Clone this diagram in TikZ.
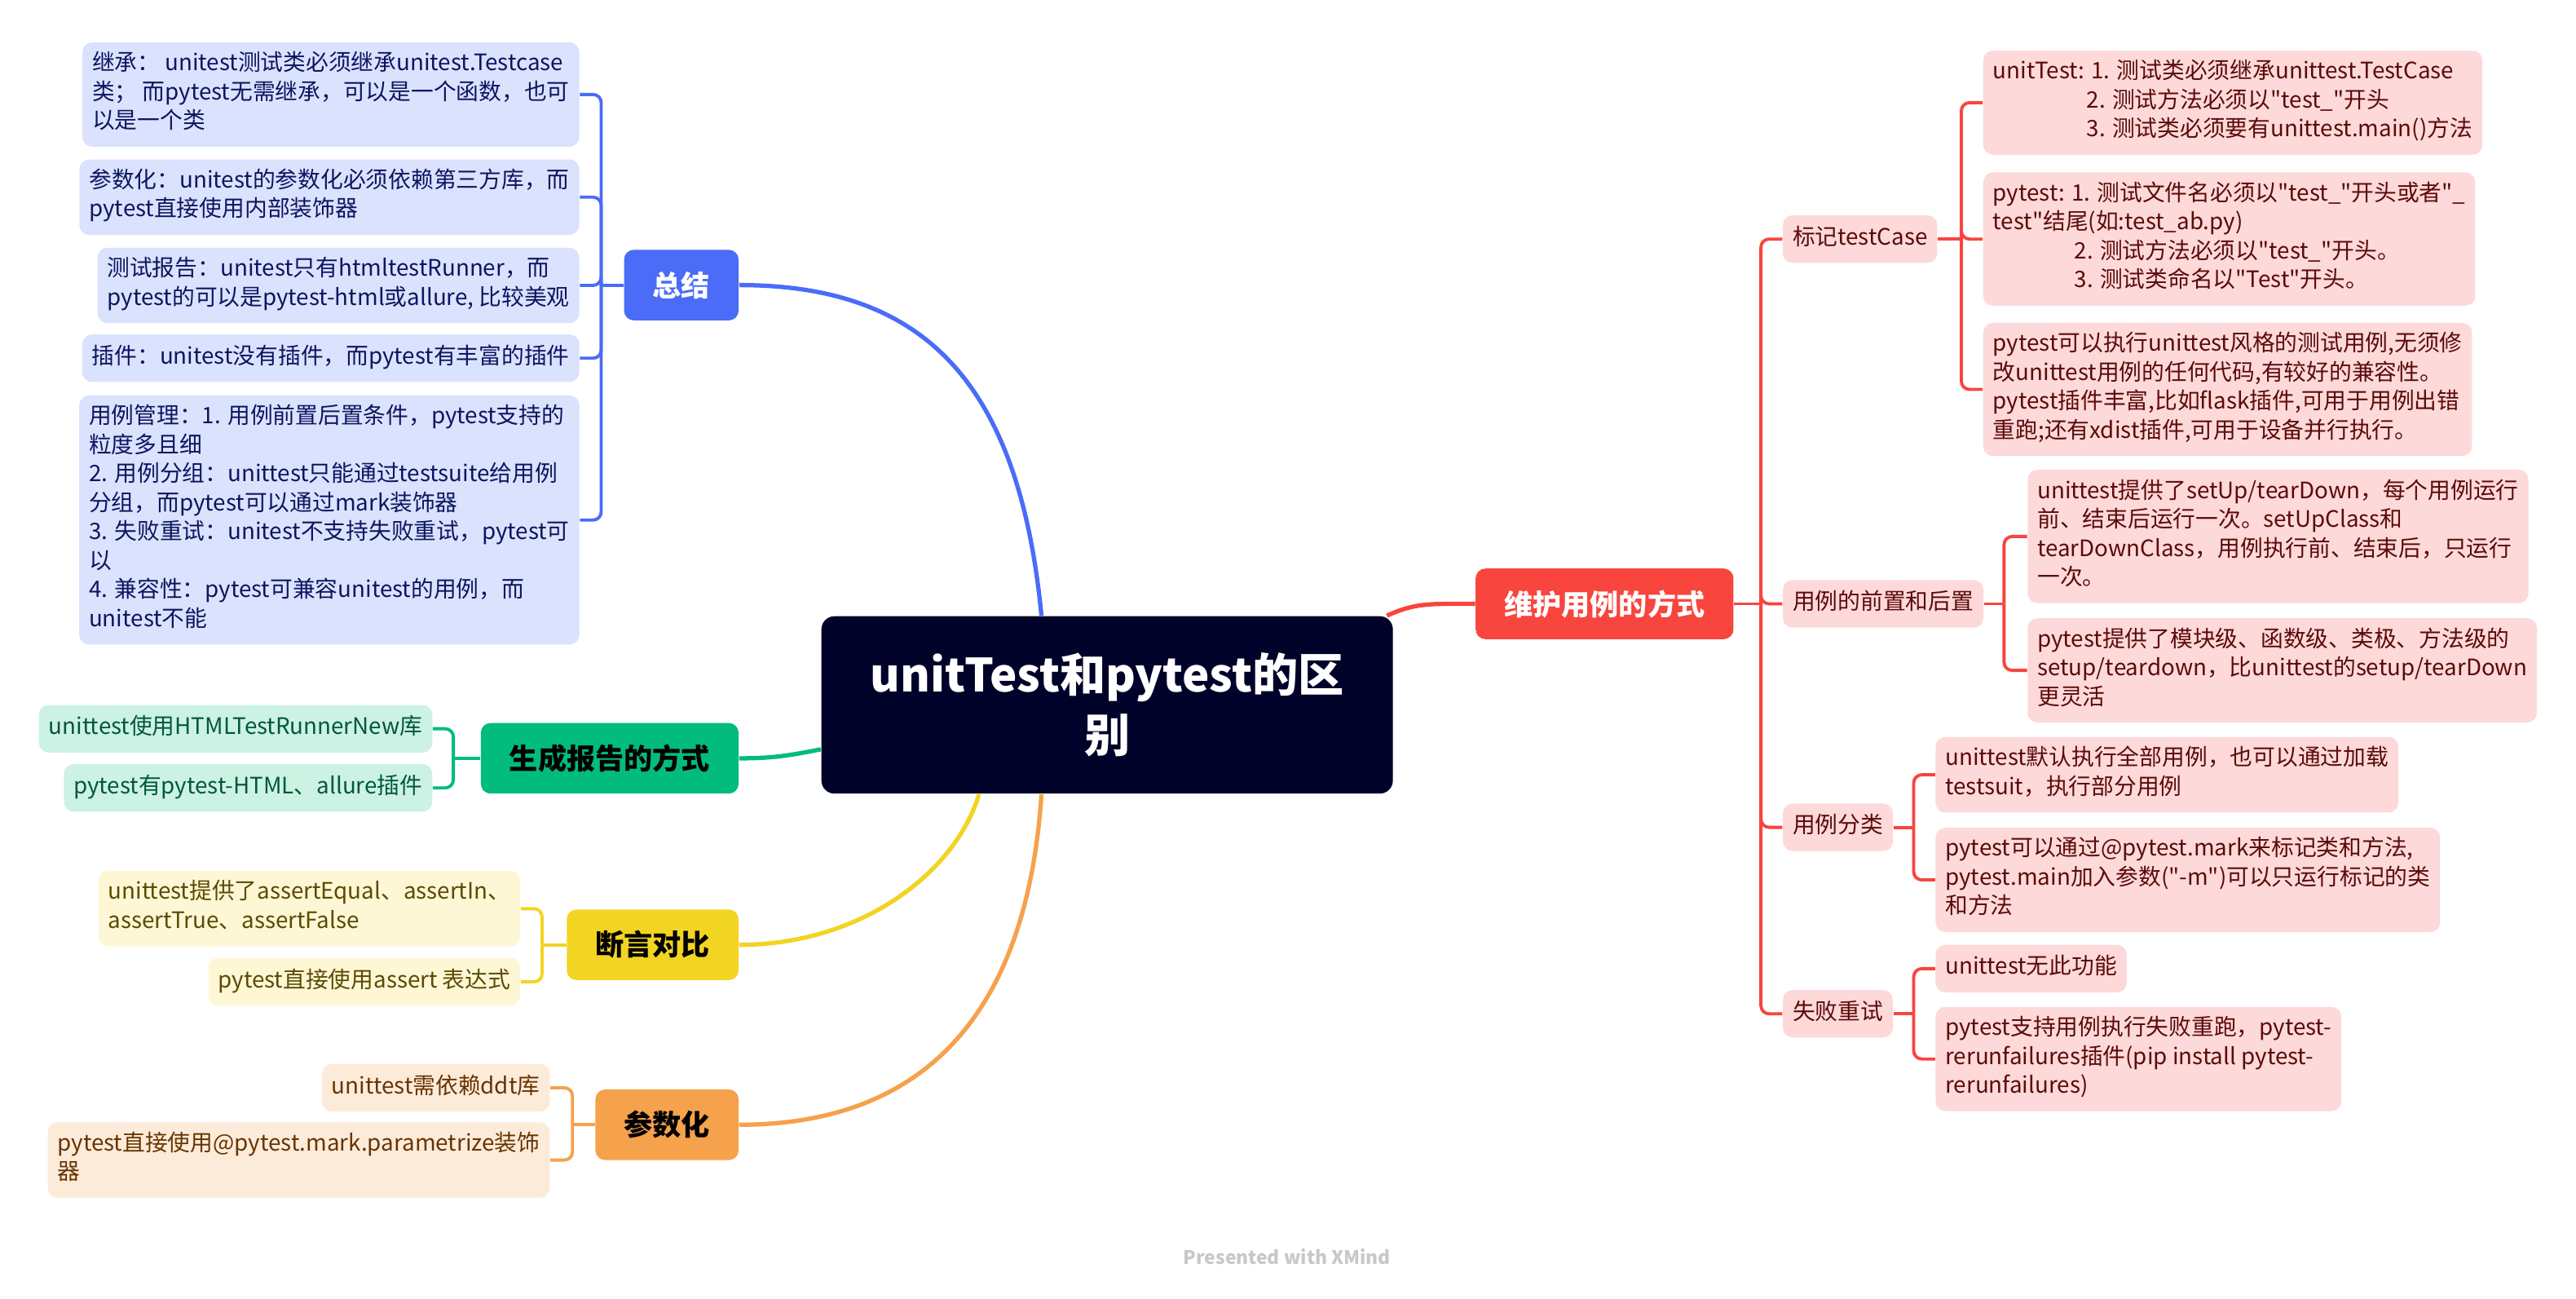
\documentclass[tikz,border=0pt]{standalone}
\usepackage{fontspec}
\setmainfont{Noto Sans CJK SC}[Ligatures=TeXOff]
\usepackage{tikz}
\usetikzlibrary{calc}
\definecolor{root_navy}{RGB}{0, 2, 41}
\definecolor{sum_blue}{RGB}{74, 108, 247}
\definecolor{sum_light}{RGB}{219, 226, 253}
\definecolor{sum_text}{RGB}{12, 22, 96}
\definecolor{keep_red}{RGB}{248, 69, 62}
\definecolor{keep_light}{RGB}{253, 217, 217}
\definecolor{keep_text}{RGB}{92, 10, 10}
\definecolor{rep_green}{RGB}{2, 188, 125}
\definecolor{rep_light}{RGB}{204, 242, 228}
\definecolor{rep_text}{RGB}{0, 88, 58}
\definecolor{ast_yellow}{RGB}{242, 212, 34}
\definecolor{ast_light}{RGB}{253, 247, 213}
\definecolor{ast_text}{RGB}{92, 74, 0}
\definecolor{par_orange}{RGB}{246, 161, 75}
\definecolor{par_light}{RGB}{253, 235, 218}
\definecolor{par_text}{RGB}{104, 52, 0}
\definecolor{mark_gray}{RGB}{200, 200, 200}
\tikzstyle{topic}=[rectangle,rounded corners=0.16cm,fill=root_navy,text=white,
  minimum width=7.012cm,minimum height=2.176cm,align=center,
  font=\fontsize{16pt}{21pt}\selectfont\bfseries]
\tikzstyle{br}=[rectangle,rounded corners=0.12cm,minimum height=0.866cm,
  inner xsep=10pt,font=\fontsize{10pt}{12pt}\selectfont\bfseries]
\tikzstyle{lf}=[rectangle,rounded corners=0.12cm,inner xsep=3.4pt,inner ysep=3.25pt,
  align=left,font=\fontsize{7.9pt}{10.1pt}\selectfont,
  execute at begin node=\strut,execute at end node=\strut]
\tikzstyle{sumleaf}=[style=lf,fill=sum_light,text=sum_text]
\tikzstyle{keepleaf}=[style=lf,fill=keep_light,text=keep_text]
\tikzstyle{repleaf}=[style=lf,fill=rep_light,text=rep_text]
\tikzstyle{astleaf}=[style=lf,fill=ast_light,text=ast_text]
\tikzstyle{parleaf}=[style=lf,fill=par_light,text=par_text]
\tikzstyle{sumline}=[draw=sum_blue,line width=1.1pt,rounded corners=0.1cm]
\tikzstyle{keepline}=[draw=keep_red,line width=1.1pt,rounded corners=0.1cm]
\tikzstyle{repline}=[draw=rep_green,line width=1.1pt,rounded corners=0.1cm]
\tikzstyle{astline}=[draw=ast_yellow,line width=1.1pt,rounded corners=0.1cm]
\tikzstyle{parline}=[draw=par_orange,line width=1.1pt,rounded corners=0.1cm]
\tikzstyle{wmark}=[text=mark_gray,font=\fontsize{6.5pt}{8pt}\selectfont\bfseries]

\begin{document}
\begin{tikzpicture}[x=0.02015cm,y=-0.02015cm]
        \path [use as bounding box,fill=white] (0,0) rectangle (1568.2,790.1);
        \node [style=topic] (root) at (674,429) {unitTest和pytest的区\\别};
        % main branches
        \node [style=br,fill=keep_red,text=white,anchor=west] (wh) at (898,367.5) {维护用例的方式};
        \node [style=br,fill=sum_blue,text=white,anchor=east] (zj) at (450,173.5) {总结};
        \node [style=br,fill=rep_green,anchor=east] (sc) at (450,461.5) {生成报告的方式};
        \node [style=br,fill=ast_yellow,anchor=east] (dy) at (450,575) {断言对比};
        \node [style=br,fill=par_orange,anchor=east] (cs) at (450,684.5) {参数化};
        \draw [draw=sum_blue,line width=1.5pt] ([shift={(-40,0)}]root.north) .. controls +(-14,-145) and +(110,0) .. (zj.east);
        \draw [draw=keep_red,line width=1.5pt] ([shift={(-4,0)}]root.north east) .. controls +(18,-8) and +(-28,0) .. (wh.west);
        \draw [draw=rep_green,line width=1.5pt] ([shift={(0,27)}]root.west) .. controls +(-20,4) and +(20,0) .. (sc.east);
        \draw [draw=ast_yellow,line width=1.5pt] ([shift={(-78,0)}]root.south) .. controls +(-14,47) and +(75,0) .. (dy.east);
        \draw [draw=par_orange,line width=1.5pt] ([shift={(-40,0)}]root.south) .. controls +(-9,137) and +(110,0) .. (cs.east);

        % 维护用例的方式
        \node [style=keepleaf,anchor=west] (bj) at (1085,145.5) {标记testCase};
        \node [style=keepleaf,anchor=west] (qz) at (1085,367.5) {用例的前置和后置};
        \node [style=keepleaf,anchor=west] (fl) at (1085,503.5) {用例分类};
        \node [style=keepleaf,anchor=west] (cx) at (1085,617) {失败重试};
        \coordinate (jwh) at (1072,367.5);
        \draw [style=keepline] (wh.east) -- (jwh);
        \draw [style=keepline] (jwh) |- (bj.west);
        \draw [style=keepline] (jwh) |- (qz.west);
        \draw [style=keepline] (jwh) |- (fl.west);
        \draw [style=keepline] (jwh) |- (cx.west);

        \node [style=keepleaf,anchor=west] (bj1) at (1207,62.5) {unitTest: 1. 测试类必须继承unittest.TestCase\\
          \hspace*{1.15cm}2. 测试方法必须以"test\_"开头\\
          \hspace*{1.15cm}3. 测试类必须要有unittest.main()方法};
        \node [style=keepleaf,anchor=west] (bj2) at (1207,145.5) {pytest: 1. 测试文件名必须以"test\_"开头或者"\_\\
          test"结尾(如:test\_ab.py)\\
          \hspace*{1cm}2. 测试方法必须以"test\_"开头。\\
          \hspace*{1cm}3. 测试类命名以"Test"开头。};
        \node [style=keepleaf,anchor=west] (bj3) at (1207,237) {pytest可以执行unittest风格的测试用例,无须修\\
          改unittest用例的任何代码,有较好的兼容性。\\
          pytest插件丰富,比如flask插件,可用于用例出错\\
          重跑;还有xdist插件,可用于设备并行执行。};
        \coordinate (jbj) at (1194,145.5);
        \draw [style=keepline] (bj.east) -- (jbj);
        \draw [style=keepline] (jbj) |- (bj1.west);
        \draw [style=keepline] (jbj) |- (bj2.west);
        \draw [style=keepline] (jbj) |- (bj3.west);

        \node [style=keepleaf,anchor=west] (qz1) at (1234,326.5) {unittest提供了setUp/tearDown，每个用例运行\\
          前、结束后运行一次。setUpClass和\\
          tearDownClass，用例执行前、结束后，只运行\\
          一次。};
        \node [style=keepleaf,anchor=west] (qz2) at (1234,408) {pytest提供了模块级、函数级、类极、方法级的\\
          setup/teardown，比unittest的setup/tearDown\\
          更灵活};
        \coordinate (jqz) at (1220,367.5);
        \draw [style=keepline] (qz.east) -- (jqz);
        \draw [style=keepline] (jqz) |- (qz1.west);
        \draw [style=keepline] (jqz) |- (qz2.west);

        \node [style=keepleaf,anchor=west] (fl1) at (1178,471.5) {unittest默认执行全部用例，也可以通过加载\\
          testsuit，执行部分用例};
        \node [style=keepleaf,anchor=west] (fl2) at (1178,535.5) {pytest可以通过@pytest.mark来标记类和方法,\\
          pytest.main加入参数("-m")可以只运行标记的类\\
          和方法};
        \coordinate (jfl) at (1165,503.5);
        \draw [style=keepline] (fl.east) -- (jfl);
        \draw [style=keepline] (jfl) |- (fl1.west);
        \draw [style=keepline] (jfl) |- (fl2.west);

        \node [style=keepleaf,anchor=west] (cx1) at (1178,589.5) {unittest无此功能};
        \node [style=keepleaf,anchor=west] (cx2) at (1178,644.5) {pytest支持用例执行失败重跑，pytest-\\
          rerunfailures插件(pip install pytest-\\
          rerunfailures)};
        \coordinate (jcx) at (1165,617);
        \draw [style=keepline] (cx.east) -- (jcx);
        \draw [style=keepline] (jcx) |- (cx1.west);
        \draw [style=keepline] (jcx) |- (cx2.west);

        % 总结
        \node [style=sumleaf,anchor=east] (zj1) at (353,57.5) {继承： unitest测试类必须继承unitest.Testcase\\
          类； 而pytest无需继承，可以是一个函数，也可\\
          以是一个类};
        \node [style=sumleaf,anchor=east] (zj2) at (353,120) {参数化：unitest的参数化必须依赖第三方库，而\\
          pytest直接使用内部装饰器};
        \node [style=sumleaf,anchor=east] (zj3) at (353,173.7) {测试报告：unitest只有htmltestRunner，而\\
          pytest的可以是pytest-html或allure, 比较美观};
        \node [style=sumleaf,anchor=east] (zj4) at (353,218) {插件：unitest没有插件，而pytest有丰富的插件};
        \node [style=sumleaf,anchor=east] (zj5) at (353,316.5) {用例管理：1. 用例前置后置条件，pytest支持的\\
          粒度多且细\\
          2. 用例分组：unittest只能通过testsuite给用例\\
          分组，而pytest可以通过mark装饰器\\
          3. 失败重试：unitest不支持失败重试，pytest可\\
          以\\
          4. 兼容性：pytest可兼容unitest的用例，而\\
          unitest不能};
        \coordinate (jzj) at (366,173.5);
        \draw [style=sumline] (zj.west) -- (jzj);
        \draw [style=sumline] (jzj) |- (zj1.east);
        \draw [style=sumline] (jzj) |- (zj2.east);
        \draw [style=sumline] (jzj) |- (zj3.east);
        \draw [style=sumline] (jzj) |- (zj4.east);
        \draw [style=sumline] (jzj) |- (zj5.east);

        % 生成报告的方式
        \node [style=repleaf,anchor=east] (sc1) at (263.5,443.5) {unittest使用HTMLTestRunnerNew库};
        \node [style=repleaf,anchor=east] (sc2) at (263.5,479.5) {pytest有pytest-HTML、allure插件};
        \coordinate (jsc) at (276,461.5);
        \draw [style=repline] (sc.west) -- (jsc);
        \draw [style=repline] (jsc) |- (sc1.east);
        \draw [style=repline] (jsc) |- (sc2.east);

        % 断言对比
        \node [style=astleaf,anchor=east] (dy1) at (317,553) {unittest提供了assertEqual、assertIn、\\
          assertTrue、assertFalse};
        \node [style=astleaf,anchor=east] (dy2) at (317,597.5) {pytest直接使用assert 表达式};
        \coordinate (jdy) at (330,575);
        \draw [style=astline] (dy.west) -- (jdy);
        \draw [style=astline] (jdy) |- (dy1.east);
        \draw [style=astline] (jdy) |- (dy2.east);

        % 参数化
        \node [style=parleaf,anchor=east] (cs1) at (335,662) {unittest需依赖ddt库};
        \node [style=parleaf,anchor=east] (cs2) at (335,706) {pytest直接使用@pytest.mark.parametrize装饰\\
          器};
        \coordinate (jcs) at (348.5,684.5);
        \draw [style=parline] (cs.west) -- (jcs);
        \draw [style=parline] (jcs) |- (cs1.east);
        \draw [style=parline] (jcs) |- (cs2.east);

        \node [style=wmark] (wm) at (783.5,765) {Presented with XMind};
    \end{tikzpicture}
\end{document}
